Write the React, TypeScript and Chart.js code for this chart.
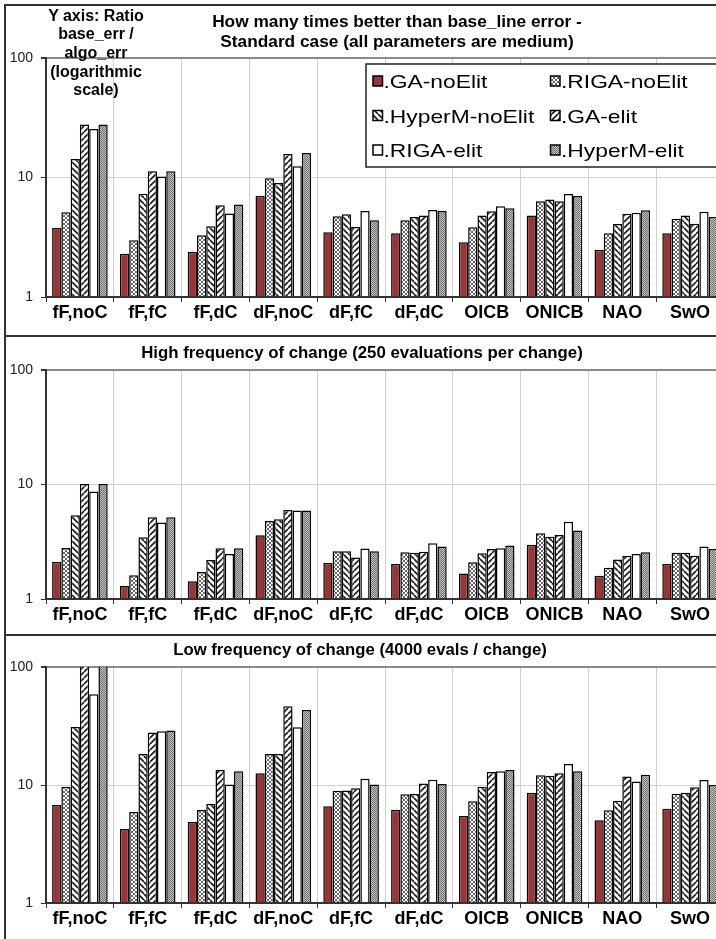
import React, { useEffect, useRef } from 'react';
import { Chart, registerables } from 'chart.js';

Chart.register(...registerables);

// ---------- data ----------
const categories = ['fF,noC', 'fF,fC', 'fF,dC', 'dF,noC', 'dF,fC', 'dF,dC', 'OICB', 'ONICB', 'NAO', 'SwO'];
const seriesNames = ['.GA-noElit', '.RIGA-noElit', '.HyperM-noElit', '.GA-elit', '.RIGA-elit', '.HyperM-elit'];
const yTickValues = [1, 10, 100];

const panel1Title = ['How many times better than base_line error -', 'Standard case (all parameters are medium)'];
const panel2Title = 'High frequency of change (250 evaluations per change)';
const panel3Title = 'Low frequency of change (4000 evals / change)';
const yAxisNote = ['Y axis: Ratio', 'base_err /', 'algo_err', '(logarithmic', 'scale)'];

// Standard case
const std_gaNoElit = [3.78, 2.3, 2.39, 7.05, 3.48, 3.41, 2.87, 4.8, 2.49, 3.41];
const std_rigaNoElit = [5.11, 2.98, 3.28, 9.84, 4.73, 4.38, 3.83, 6.32, 3.41, 4.52];
const std_hyperNoElit = [14.3, 7.3, 3.9, 9.0, 4.92, 4.67, 4.8, 6.56, 4.08, 4.8];
const std_gaElit = [27.7, 11.3, 5.85, 15.7, 3.85, 4.8, 5.21, 6.32, 4.98, 4.11];
const std_rigaElit = [25.5, 10.2, 5.0, 12.4, 5.25, 5.35, 5.74, 7.28, 5.08, 5.18];
const std_hyperElit = [27.7, 11.3, 5.93, 16.0, 4.38, 5.25, 5.52, 7.0, 5.31, 4.67];

// High frequency of change
const hi_gaNoElit = [2.12, 1.3, 1.43, 3.6, 2.06, 2.02, 1.67, 2.97, 1.6, 2.02];
const hi_rigaNoElit = [2.79, 1.61, 1.72, 4.81, 2.61, 2.56, 2.09, 3.75, 1.87, 2.54];
const hi_hyperNoElit = [5.39, 3.46, 2.19, 4.97, 2.61, 2.54, 2.51, 3.49, 2.21, 2.54];
const hi_gaElit = [10.1, 5.18, 2.77, 6.0, 2.3, 2.58, 2.74, 3.63, 2.39, 2.39];
const hi_rigaElit = [8.68, 4.65, 2.47, 5.92, 2.76, 3.07, 2.77, 4.72, 2.47, 2.87];
const hi_hyperElit = [10.1, 5.18, 2.77, 5.92, 2.61, 2.87, 2.93, 3.96, 2.56, 2.74];

// Low frequency of change (values above 100 run off the top of the axis)
const lo_gaNoElit = [6.77, 4.24, 4.86, 12.6, 6.59, 6.18, 5.46, 8.61, 5.02, 6.3];
const lo_rigaNoElit = [9.68, 5.9, 6.14, 18.3, 8.95, 8.33, 7.27, 12.1, 6.1, 8.45];
const lo_hyperNoElit = [31.0, 18.3, 6.9, 18.3, 9.0, 8.4, 9.68, 12.0, 7.37, 8.6];
const lo_gaElit = [120, 27.9, 13.4, 46.4, 9.37, 10.3, 12.9, 12.6, 11.8, 9.55];
const lo_rigaElit = [58.7, 28.5, 10.1, 30.8, 11.3, 11.1, 13.1, 15.1, 10.7, 11.0];
const lo_hyperElit = [120, 28.9, 13.1, 43.2, 10.1, 10.2, 13.4, 13.1, 12.2, 10.0];

const FONT = "'Liberation Sans', Arial, Helvetica, sans-serif";

type Kind = 'red' | 'cross' | 'back' | 'fwd' | 'white' | 'dots';
const seriesKinds: Kind[] = ['red', 'cross', 'back', 'fwd', 'white', 'dots'];

function makeFill(ctx: CanvasRenderingContext2D, kind: Kind): string | CanvasPattern {
  if (kind === 'red') return '#9b3535';
  if (kind === 'white') return '#ffffff';
  const c = document.createElement('canvas');
  const g = c.getContext('2d') as CanvasRenderingContext2D;
  if (kind === 'dots') {
    c.width = 2;
    c.height = 2;
    g.fillStyle = '#c2c2c2';
    g.fillRect(0, 0, 2, 2);
    g.fillStyle = '#707070';
    g.fillRect(0, 0, 1, 1);
    g.fillRect(1, 1, 1, 1);
  } else if (kind === 'cross') {
    const s = 4;
    c.width = s;
    c.height = s;
    g.fillStyle = '#ffffff';
    g.fillRect(0, 0, s, s);
    g.strokeStyle = '#404040';
    g.lineWidth = 0.8;
    g.beginPath();
    for (let k = -1; k <= 1; k++) {
      g.moveTo(k * s, 0);
      g.lineTo(k * s + s, s);
      g.moveTo(k * s, s);
      g.lineTo(k * s + s, 0);
    }
    g.stroke();
  } else {
    const s = 6;
    c.width = s;
    c.height = s;
    g.fillStyle = '#ffffff';
    g.fillRect(0, 0, s, s);
    g.strokeStyle = '#1a1a1a';
    g.lineWidth = 1.6;
    g.beginPath();
    for (let k = -1; k <= 1; k++) {
      if (kind === 'back') {
        g.moveTo(k * s, 0);
        g.lineTo(k * s + s, s);
      } else {
        g.moveTo(k * s, s);
        g.lineTo(k * s + s, 0);
      }
    }
    g.stroke();
  }
  return ctx.createPattern(c, 'repeat') as CanvasPattern;
}

const axisLinePlugin = {
  id: 'axisLineOver',
  afterDatasetsDraw(chart: any) {
    const { ctx, chartArea } = chart;
    ctx.save();
    ctx.strokeStyle = '#333';
    ctx.lineWidth = 2;
    ctx.beginPath();
    ctx.moveTo(chartArea.left, chartArea.bottom);
    ctx.lineTo(chartArea.right, chartArea.bottom);
    ctx.stroke();
    ctx.restore();
  },
};

const boxLegendPlugin = {
  id: 'boxLegend',
  afterDraw(chart: any) {
    const ctx = chart.ctx as CanvasRenderingContext2D;
    const left = 366;
    const top = 64;
    const bottom = 167;
    const right = 760;
    ctx.save();
    ctx.fillStyle = '#ffffff';
    ctx.fillRect(left, top, right - left, bottom - top);
    ctx.strokeStyle = '#222';
    ctx.lineWidth = 1.5;
    ctx.strokeRect(left, top, right - left, bottom - top);
    const colX = [373, 550.5];
    const rowY = [81, 115.5, 150];
    chart.data.datasets.forEach((ds: any, i: number) => {
      const col = i % 2;
      const row = Math.floor(i / 2);
      const x = colX[col];
      const y = rowY[row];
      ctx.fillStyle = ds.backgroundColor;
      ctx.fillRect(x, y - 5, 9.5, 10);
      ctx.strokeStyle = '#000';
      ctx.lineWidth = 1.5;
      ctx.strokeRect(x, y - 5, 9.5, 10);
      ctx.save();
      ctx.translate(x + 10.5, y + 7);
      ctx.scale(1.2, 1);
      ctx.fillStyle = '#000';
      ctx.font = `19px ${FONT}`;
      ctx.textBaseline = 'alphabetic';
      ctx.fillText(ds.label, 0, 0);
      ctx.restore();
    });
    ctx.restore();
  },
};

function buildChart(canvas: HTMLCanvasElement, series: number[][], padTop: number, xHeight: number, withLegend: boolean) {
  const ctx = canvas.getContext('2d') as CanvasRenderingContext2D;
  const datasets = series.map((vals, i) => ({
    label: seriesNames[i],
    data: vals,
    backgroundColor: makeFill(ctx, seriesKinds[i]),
    borderColor: '#000',
    borderWidth: 1.5,
    barPercentage: 1,
    categoryPercentage: 0.82,
    clip: 0,
  }));
  const plugins: any[] = [axisLinePlugin];
  if (withLegend) plugins.push(boxLegendPlugin);
  return new Chart(canvas, {
    type: 'bar',
    data: { labels: categories, datasets },
    plugins,
    options: {
      animation: false,
      responsive: false,
      maintainAspectRatio: false,
      events: [],
      layout: { padding: { top: padTop, left: 0, right: 0, bottom: 0 } },
      plugins: {
        legend: { display: false },
        title: { display: false },
        tooltip: { enabled: false },
      },
      scales: {
        x: {
          type: 'category',
          offset: true,
          afterFit: (scale: any) => {
            scale.height = xHeight;
          },
          ticks: {
            font: { family: FONT, size: 18, weight: 'bold' },
            color: '#000',
            padding: 0,
            maxRotation: 0,
            autoSkip: false,
          },
          grid: { color: '#d0d0d0', lineWidth: 1, offset: true, tickColor: '#333', tickLength: 5 },
          border: { color: '#333', width: 2 },
        },
        y: {
          type: 'logarithmic',
          min: 1,
          max: 100,
          afterBuildTicks: (scale: any) => {
            scale.ticks = yTickValues.map((v) => ({ value: v }));
          },
          afterFit: (scale: any) => {
            scale.width = 46;
          },
          ticks: {
            callback: (v: any) => String(v),
            font: { family: FONT, size: 14 },
            color: '#222',
            padding: 8,
          },
          grid: {
            color: (c: any) => (c.tick && c.tick.value === 100 ? '#8a8a8a' : '#d0d0d0'),
            lineWidth: (c: any) => (c.tick && c.tick.value === 100 ? 2 : 1),
            tickColor: '#333',
            tickLength: 5,
          },
          border: { color: '#333', width: 2 },
        },
      },
    } as any,
  });
}

const titleStyle: React.CSSProperties = {
  position: 'absolute',
  width: 600,
  textAlign: 'center',
  fontFamily: FONT,
  fontWeight: 'bold',
  fontSize: 16,
  lineHeight: '20px',
  color: '#000',
  whiteSpace: 'nowrap',
  transformOrigin: '50% 50%',
};

export default function App() {
  const c1 = useRef<HTMLCanvasElement>(null);
  const c2 = useRef<HTMLCanvasElement>(null);
  const c3 = useRef<HTMLCanvasElement>(null);

  useEffect(() => {
    const charts: Chart[] = [];
    if (c1.current)
      charts.push(
        buildChart(
          c1.current,
          [std_gaNoElit, std_rigaNoElit, std_hyperNoElit, std_gaElit, std_rigaElit, std_hyperElit],
          58,
          35,
          true
        )
      );
    if (c2.current)
      charts.push(
        buildChart(c2.current, [hi_gaNoElit, hi_rigaNoElit, hi_hyperNoElit, hi_gaElit, hi_rigaElit, hi_hyperElit], 33, 34, false)
      );
    if (c3.current)
      charts.push(
        buildChart(c3.current, [lo_gaNoElit, lo_rigaNoElit, lo_hyperNoElit, lo_gaElit, lo_rigaElit, lo_hyperElit], 31, 36, false)
      );
    return () => charts.forEach((ch) => ch.destroy());
  }, []);

  const line = (style: React.CSSProperties) => (
    <div style={{ position: 'absolute', background: '#333', ...style }} />
  );

  return (
    <div
      style={{
        position: 'fixed',
        left: 0,
        top: 0,
        width: 716,
        height: 939,
        overflow: 'hidden',
        background: '#ffffff',
      }}
    >
      <canvas ref={c1} width={724} height={332} style={{ position: 'absolute', left: 0, top: 0, width: 724, height: 332 }} />
      <canvas ref={c2} width={724} height={296} style={{ position: 'absolute', left: 0, top: 337, width: 724, height: 296 }} />
      <canvas ref={c3} width={724} height={303} style={{ position: 'absolute', left: 0, top: 636, width: 724, height: 303 }} />

      {line({ left: 4, top: 4, width: 2, height: 935 })}
      {line({ left: 4, top: 4, width: 712, height: 1.5 })}
      {line({ left: 4, top: 335, width: 712, height: 1.5 })}
      {line({ left: 4, top: 634, width: 712, height: 1.5 })}

      <div style={{ ...titleStyle, left: 97, top: 12, transform: 'scaleX(1.08)' }}>
        {panel1Title.map((t) => (
          <div key={t}>{t}</div>
        ))}
      </div>
      <div style={{ ...titleStyle, left: 62, top: 343, transform: 'scaleX(1.05)' }}>{panel2Title}</div>
      <div style={{ ...titleStyle, left: 60, top: 640, transform: 'scaleX(1.045)' }}>{panel3Title}</div>

      <div
        style={{
          position: 'absolute',
          left: 36,
          top: 6.5,
          width: 120,
          textAlign: 'center',
          fontFamily: FONT,
          fontWeight: 'bold',
          fontSize: 16,
          lineHeight: '18.7px',
          color: '#000',
        }}
      >
        {yAxisNote.map((t) => (
          <div key={t}>{t}</div>
        ))}
      </div>
    </div>
  );
}
